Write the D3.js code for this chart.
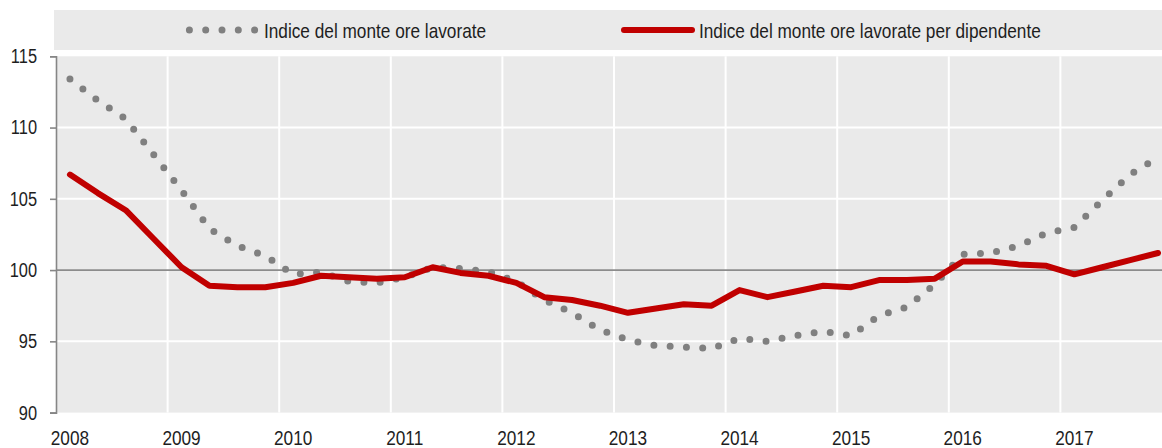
<!DOCTYPE html>
<html>
<head>
<meta charset="utf-8">
<script src="https://cdn.jsdelivr.net/npm/d3@7"></script>
<style>
  html, body { margin: 0; padding: 0; background: #fff; }
  svg { display: block; }
  text { font-family: "Liberation Sans", Arial, sans-serif; fill: #1e1e1e; }
</style>
</head>
<body>
<div id="chart"></div>
<script>
// quarterly index, 2008 T1 -> 2017 T4
const years = [2008, 2009, 2010, 2011, 2012, 2013, 2014, 2015, 2016, 2017];
const quarters = ["T1", "T2", "T3", "T4"];
const yTicks = [90, 95, 100, 105, 110, 115];

const monteOre = [
    113.4, 111.9, 110.6, 108.1,
    105.6, 102.9, 101.7, 101.0,
    99.7, 99.85, 99.2, 99.1,
    99.5, 100.2, 100.1, 99.9,
    99.2, 97.9, 97.0, 95.8,
    95.1, 94.7, 94.6, 94.5,
    95.2, 95.0, 95.4, 95.7,
    95.4, 96.8, 97.4, 99.0,
    101.1, 101.2, 101.7, 102.6,
    103.0, 104.9, 106.7, 107.9
];
const monteOreDip = [
    106.7, 105.4, 104.2, 102.2,
    100.2, 98.9, 98.8, 98.8,
    99.1, 99.6, 99.5, 99.4,
    99.5, 100.2, 99.8, 99.6,
    99.1, 98.1, 97.9, 97.5,
    97.0, 97.3, 97.6, 97.5,
    98.6, 98.1, 98.5, 98.9,
    98.8, 99.3, 99.3, 99.4,
    100.6, 100.6, 100.4, 100.3,
    99.7, 100.2, 100.7, 101.2
];
const seriesNames = ["Indice del monte ore lavorate", "Indice del monte ore lavorate per dipendente"];

const width = 1162, height = 448;
const categories = years.flatMap(y => quarters.map(q => y + " " + q));

// no narrow font installed: squeeze Liberation Sans to Arial Narrow proportions
const narrow = sel => sel.each(function() {
    const len = this.getComputedTextLength();
    d3.select(this)
        .attr("textLength", len * 0.82)
        .attr("lengthAdjust", "spacingAndGlyphs");
});

(() => {
    const svg = d3.select("#chart").append("svg")
        .attr("width", width)
        .attr("height", height)
        .attr("viewBox", [0, 0, width, height]);

    // the plot runs a little past the right edge of the picture
    const x = d3.scaleBand(categories, [56, 1172]).padding(0);
    const y = d3.scaleLinear([90, 115], [412.6, 56.3]);
    const cx = d => x(d) + x.bandwidth() / 2;

    // legend band
    svg.append("rect")
        .attr("x", 54).attr("y", 10)
        .attr("width", width - 54).attr("height", 40)
        .attr("fill", "#eaeaea");

    // plot background
    svg.append("rect")
        .attr("x", x.range()[0]).attr("y", y(115))
        .attr("width", x.range()[1] - x.range()[0])
        .attr("height", y(90) - y(115))
        .attr("fill", "#eaeaea");

    // white grid
    svg.append("g")
        .selectAll("line")
        .data(yTicks.filter(d => d !== 90 && d !== 100 && d !== 115))
        .join("line")
            .attr("x1", x.range()[0]).attr("x2", x.range()[1])
            .attr("y1", d => y(d)).attr("y2", d => y(d))
            .attr("stroke", "#fff")
            .attr("stroke-width", 2);

    svg.append("g")
        .selectAll("line")
        .data(years.slice(1))
        .join("line")
            .attr("x1", d => x(d + " T1")).attr("x2", d => x(d + " T1"))
            .attr("y1", y(115)).attr("y2", y(90))
            .attr("stroke", "#fff")
            .attr("stroke-width", 2);

    // base line at 100
    svg.append("line")
        .attr("x1", x.range()[0]).attr("x2", x.range()[1])
        .attr("y1", y(100)).attr("y2", y(100))
        .attr("stroke", "#8c8c8c")
        .attr("stroke-width", 1.6);

    // y axis
    const yAxis = svg.append("g")
        .attr("transform", `translate(${x.range()[0]},0)`)
        .call(d3.axisLeft(y).tickValues(yTicks).tickSize(6).tickPadding(13));
    yAxis.select(".domain").attr("stroke", "#868686").attr("stroke-width", 1.6);
    yAxis.selectAll(".tick line").attr("stroke", "#868686").attr("stroke-width", 1.6);
    yAxis.selectAll(".tick text")
        .attr("font-size", 20)
        .attr("font-family", null)
        .attr("fill", "#1e1e1e")
        .call(narrow);

    // x labels on the first quarter of each year
    svg.append("g")
        .selectAll("text")
        .data(years)
        .join("text")
            .attr("x", d => cx(d + " T1"))
            .attr("y", 445)
            .attr("text-anchor", "middle")
            .attr("font-size", 21)
            .text(d => d)
            .call(narrow);

    const line = d3.line()
        .x((d, i) => cx(categories[i]))
        .y(d => y(d));

    svg.append("path")
        .datum(monteOre)
        .attr("d", line)
        .attr("fill", "none")
        .attr("stroke", "#808080")
        .attr("stroke-width", 7)
        .attr("stroke-linecap", "round")
        .attr("stroke-dasharray", "0 16.3");

    svg.append("path")
        .datum(monteOreDip)
        .attr("d", line)
        .attr("fill", "none")
        .attr("stroke", "#c00000")
        .attr("stroke-width", 6)
        .attr("stroke-linejoin", "round")
        .attr("stroke-linecap", "round");

    // legend
    const legend = svg.append("g");
    legend.append("line")
        .attr("x1", 189.4).attr("x2", 254.8)
        .attr("y1", 30).attr("y2", 30)
        .attr("stroke", "#808080")
        .attr("stroke-width", 7)
        .attr("stroke-linecap", "round")
        .attr("stroke-dasharray", "0 16.3");
    legend.append("text")
        .attr("x", 264).attr("y", 37.5)
        .attr("font-size", 21)
        .text(seriesNames[0])
        .call(narrow);

    legend.append("line")
        .attr("x1", 624).attr("x2", 692)
        .attr("y1", 30).attr("y2", 30)
        .attr("stroke", "#c00000")
        .attr("stroke-width", 6)
        .attr("stroke-linecap", "round");
    legend.append("text")
        .attr("x", 699).attr("y", 37.5)
        .attr("font-size", 21)
        .text(seriesNames[1])
        .call(narrow);
})();
</script>
</body>
</html>
